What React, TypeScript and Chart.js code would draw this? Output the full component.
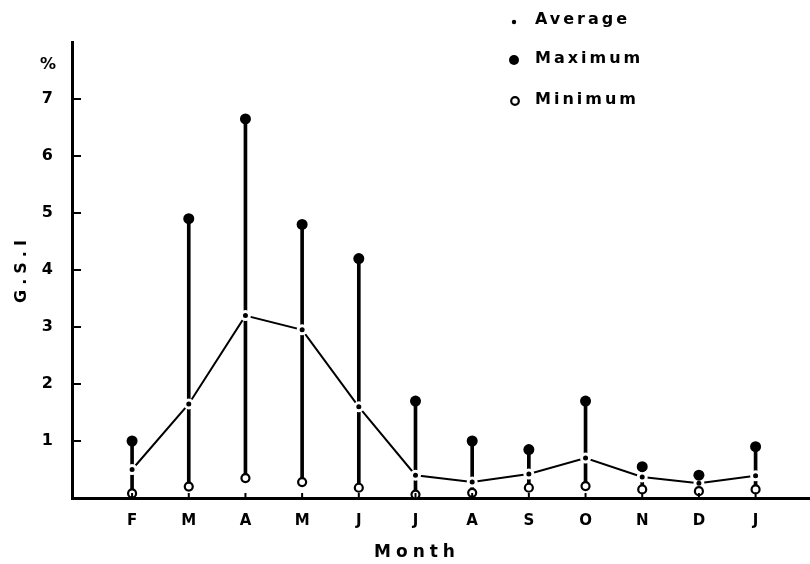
import React, { useEffect, useRef } from "react";
import { Chart, registerables } from "chart.js";

Chart.register(...registerables);

const months = ["F", "M", "A", "M", "J", "J", "A", "S", "O", "N", "D", "J"];
const maxValues = [1.0, 4.9, 6.65, 4.8, 4.2, 1.7, 1.0, 0.85, 1.7, 0.55, 0.4, 0.9];
const avgValues = [0.5, 1.65, 3.2, 2.95, 1.6, 0.4, 0.28, 0.42, 0.7, 0.37, 0.26, 0.39];
const minValues = [0.08, 0.2, 0.35, 0.28, 0.18, 0.06, 0.09, 0.18, 0.21, 0.15, 0.12, 0.15];
const yTickValues = [1, 2, 3, 4, 5, 6, 7];
const legendLabels = ["Average", "Maximum", "Minimum"];
const yTitle = "G.S.I";
const xTitle = "Month";
const yUnit = "%";

const FONT = "'DejaVu Sans', 'Liberation Sans', sans-serif";

const decorPlugin = {
  id: "decor",
  afterDraw(chart: any) {
    const ctx = chart.ctx;
    const xs = chart.scales.x;
    const ys = chart.scales.y;
    const area = chart.chartArea;
    ctx.save();
    ctx.strokeStyle = "#000";
    ctx.fillStyle = "#000";
    // inward y ticks
    ctx.lineWidth = 2;
    yTickValues.forEach((v) => {
      const y = ys.getPixelForValue(v);
      ctx.beginPath();
      ctx.moveTo(area.left, y);
      ctx.lineTo(area.left + 9, y);
      ctx.stroke();
    });
    // inward x ticks
    months.forEach((_, i) => {
      const x = xs.getPixelForValue(i + 1);
      ctx.beginPath();
      ctx.moveTo(x, area.bottom);
      ctx.lineTo(x, area.bottom - 5);
      ctx.stroke();
    });
    // unit
    ctx.font = `bold 16px ${FONT}`;
    ctx.textAlign = "right";
    ctx.textBaseline = "middle";
    ctx.fillText(yUnit, area.left - 16, ys.getPixelForValue(7.6));
    // y title
    ctx.save();
    ctx.translate(22, 271);
    ctx.rotate(-Math.PI / 2);
    ctx.textAlign = "center";
    (ctx as any).letterSpacing = "5px";
    ctx.font = `bold 16px ${FONT}`;
    ctx.fillText(yTitle, 2, 0);
    ctx.restore();
    // x title
    ctx.save();
    (ctx as any).letterSpacing = "5px";
    ctx.font = `bold 17px ${FONT}`;
    ctx.textAlign = "center";
    ctx.textBaseline = "middle";
    ctx.fillText(xTitle, 417, 553);
    ctx.restore();
    // legend
    const ly = [20, 59, 100];
    ctx.save();
    (ctx as any).letterSpacing = "3px";
    ctx.font = `bold 16px ${FONT}`;
    ctx.textAlign = "left";
    ctx.textBaseline = "middle";
    legendLabels.forEach((t, i) => {
      ctx.fillText(t, 535, ly[i]);
    });
    ctx.restore();
    // legend markers
    ctx.beginPath();
    ctx.arc(514, ly[0] + 2, 2.2, 0, Math.PI * 2);
    ctx.fill();
    ctx.beginPath();
    ctx.arc(514, ly[1] + 1, 5, 0, Math.PI * 2);
    ctx.fill();
    ctx.beginPath();
    ctx.lineWidth = 2.2;
    ctx.arc(515, ly[2] + 1, 3.8, 0, Math.PI * 2);
    ctx.stroke();
    ctx.restore();
  },
};

export default function App() {
  const ref = useRef<HTMLCanvasElement | null>(null);
  useEffect(() => {
    if (!ref.current) return;
    const pts = (vals: number[]) => vals.map((v, i) => ({ x: i + 1, y: v }));
    const chart = new Chart(ref.current, {
      type: "line",
      data: {
        datasets: [
          {
            type: "bar",
            label: "Range",
            data: months.map((_, i) => ({ x: i + 1, y: [minValues[i], maxValues[i]] })) as any,
            backgroundColor: "#000",
            barThickness: 3,
            order: 5,
          } as any,
          {
            type: "line",
            label: "Average",
            data: pts(avgValues),
            borderColor: "#000",
            borderWidth: 2,
            pointRadius: 4,
            pointBackgroundColor: "#000",
            pointBorderColor: "#fff",
            pointBorderWidth: 3,
            tension: 0,
            order: 3,
          },
          {
            type: "line",
            label: "Maximum",
            data: pts(maxValues),
            showLine: false,
            pointRadius: 5.5,
            pointBackgroundColor: "#000",
            pointBorderColor: "#000",
            pointBorderWidth: 0,
            order: 1,
          },
          {
            type: "line",
            label: "Minimum",
            data: pts(minValues),
            showLine: false,
            pointRadius: 4,
            pointBackgroundColor: "#fff",
            pointBorderColor: "#000",
            pointBorderWidth: 2.2,
            order: 1,
          },
        ],
      },
      options: {
        responsive: false,
        animation: false,
        layout: { autoPadding: false, padding: { top: 42, right: 0, left: 0, bottom: 0 } },
        plugins: { legend: { display: false }, tooltip: { enabled: false } },
        scales: {
          x: {
            type: "linear",
            min: -0.06,
            max: 12.96,
            offset: false,
            grid: { display: false, drawTicks: false },
            border: { display: true, color: "#000", width: 3 },
            afterBuildTicks: (s: any) => {
              s.ticks = months.map((_, i) => ({ value: i + 1 }));
            },
            ticks: {
              autoSkip: false,
              maxRotation: 0,
              padding: 14,
              color: "#000",
              font: { family: FONT, size: 15, weight: "bold" },
              callback: (v: any) => (Number.isInteger(v) && v >= 1 && v <= 12 ? months[v - 1] : ""),
            },
            afterFit: (s: any) => {
              s.height = 66;
              s.paddingRight = 0;
              s.paddingLeft = 0;
            },
          },
          y: {
            type: "linear",
            min: 0,
            max: 8,
            grid: { display: false, drawTicks: false },
            border: { display: true, color: "#000", width: 3 },
            ticks: {
              stepSize: 1,
              padding: 19,
              color: "#000",
              font: { family: FONT, size: 16, weight: "bold" },
              callback: (v: any) => (yTickValues.includes(v) ? String(v) : ""),
            },
            afterFit: (s: any) => {
              s.width = 72;
              s.paddingTop = 0;
              s.paddingBottom = 0;
            },
          },
        },
      },
      plugins: [decorPlugin],
    });
    return () => chart.destroy();
  }, []);
  return (
    <div style={{ position: "fixed", left: 0, top: 0, width: 810, height: 564, background: "#fff" }}>
      <canvas ref={ref} width={810} height={564} style={{ display: "block" }} />
    </div>
  );
}
